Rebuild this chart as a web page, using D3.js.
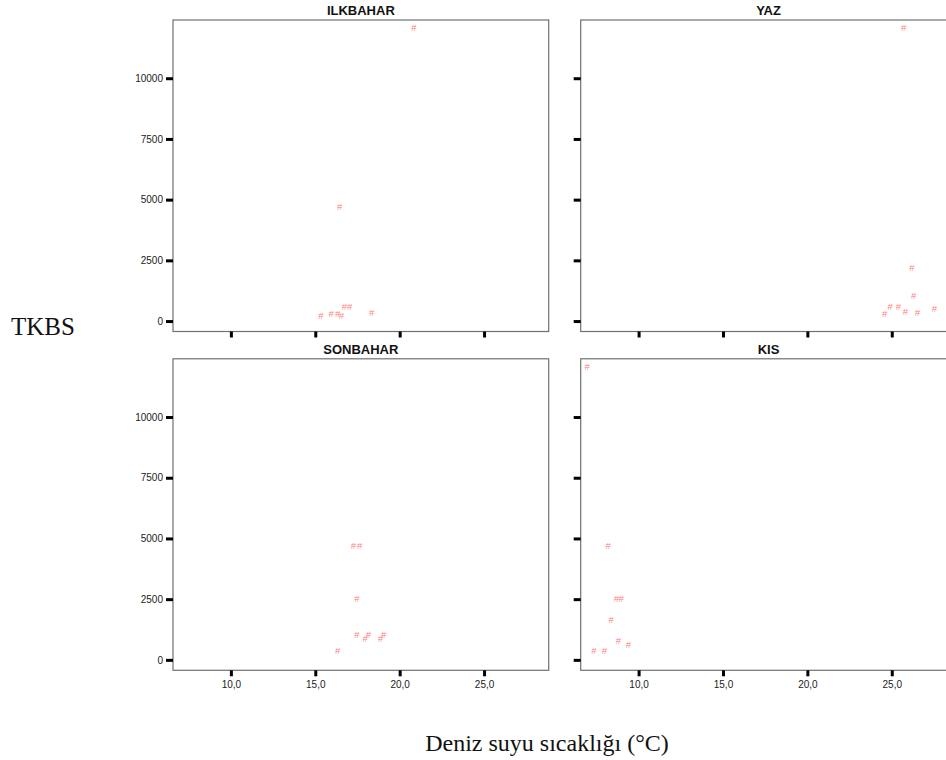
<!DOCTYPE html>
<html>
<head>
<meta charset="utf-8">
<script src="https://cdn.jsdelivr.net/npm/d3@7"></script>
<style>
    body { margin: 0; background: #fff; }
    .tick text { font-family: "Liberation Sans", Arial, sans-serif; font-size: 10px; fill: #222; }
</style>
</head>
<body>
<script>
// seasons (panel order: top-left, top-right, bottom-left, bottom-right)
var seasons = ["ILKBAHAR", "YAZ", "SONBAHAR", "KIS"];

// sea water temperature (°C) per season
var ilkbaharTemp = [20.85, 16.45, 15.33, 15.94, 16.33, 16.55, 16.73, 17.04, 18.34];
var yazTemp = [25.71, 26.20, 26.30, 24.90, 25.39, 24.58, 25.81, 26.52, 27.53];
var sonbaharTemp = [17.26, 17.63, 17.46, 17.46, 18.15, 17.95, 19.05, 18.86, 16.33];
var kisTemp = [6.96, 8.20, 8.68, 8.97, 8.38, 8.80, 9.39, 7.35, 7.98];

// TKBS per season
var ilkbaharTkbs = [12080, 4710, 235, 317, 317, 235, 589, 589, 358];
var yazTkbs = [12080, 2195, 1042, 589, 589, 301, 400, 358, 507];
var sonbaharTkbs = [4716, 4716, 2535, 1054, 1054, 889, 1054, 889, 395];
var kisTkbs = [12082, 4716, 2535, 2535, 1671, 782, 617, 395, 395];

var yTicks = [0, 2500, 5000, 7500, 10000];
var xTicks = [10, 15, 20, 25];

var temps = [ilkbaharTemp, yazTemp, sonbaharTemp, kisTemp];
var tkbs = [ilkbaharTkbs, yazTkbs, sonbaharTkbs, kisTkbs];

var width = 946;
var height = 760;
var panelW = 375.7;
var panelH = 311.5;
var panelX = [173, 580.7];
var panelY = [20, 358.8];

var svg = d3.select("body")
    .append("svg")
    .attr("width", width)
    .attr("height", height);

var x = d3.scaleLinear()
    .domain([6.57, 28.83])
    .range([0, panelW]);

var y = d3.scaleLinear()
    .domain([-430, 12398])
    .range([panelH, 0]);

seasons.forEach(function (name, i) {
    var col = i % 2;
    var row = Math.floor(i / 2);

    var g = svg.append("g")
        .attr("transform", "translate(" + panelX[col] + "," + panelY[row] + ")");

    g.append("rect")
        .attr("width", panelW)
        .attr("height", panelH)
        .attr("fill", "none")
        .attr("stroke", "#707070")
        .attr("stroke-width", 1.2);

    g.append("text")
        .attr("x", panelW / 2)
        .attr("y", -5)
        .attr("text-anchor", "middle")
        .style("font-family", "'Liberation Sans', Arial, sans-serif")
        .style("font-weight", "bold")
        .style("font-size", "13px")
        .style("fill", "#111")
        .text(name);

    var yAxis = g.append("g")
        .call(d3.axisLeft(y)
            .tickValues(yTicks)
            .tickSize(7)
            .tickPadding(3)
            .tickFormat(col == 0 ? d3.format("d") : ""));

    var xAxis = g.append("g")
        .attr("transform", "translate(0," + panelH + ")")
        .call(d3.axisBottom(x)
            .tickValues(xTicks)
            .tickSize(6)
            .tickPadding(5)
            .tickFormat(function (d) {
                return row == 1 ? d.toFixed(1).replace(".", ",") : "";
            }));

    [yAxis, xAxis].forEach(function (ax) {
        ax.select(".domain").remove();
        ax.selectAll(".tick line")
            .attr("stroke", "#000")
            .attr("stroke-width", 3);
    });

    var pts = temps[i].map(function (t, j) {
        return { t: t, v: tkbs[i][j] };
    });

    // SPSS-style "#" markers
    g.selectAll(".pt")
        .data(pts)
        .enter()
        .append("text")
        .attr("class", "pt")
        .attr("x", function (d) { return x(d.t); })
        .attr("y", function (d) { return y(d.v) + 3.5; })
        .attr("text-anchor", "middle")
        .style("font-family", "'Liberation Sans', Arial, sans-serif")
        .style("font-size", "9.5px")
        .style("fill", "#ff7f7f")
        .text("#");
});

// axis titles
svg.append("text")
    .attr("x", 43)
    .attr("y", 335)
    .attr("text-anchor", "middle")
    .style("font-family", "'Liberation Serif', 'Times New Roman', serif")
    .style("font-size", "25px")
    .style("fill", "#111")
    .text("TKBS");

svg.append("text")
    .attr("x", 547)
    .attr("y", 751)
    .attr("text-anchor", "middle")
    .style("font-family", "'Liberation Serif', 'Times New Roman', serif")
    .style("font-size", "24px")
    .style("fill", "#111")
    .text("Deniz suyu sıcaklığı (°C)");
</script>
</body>
</html>
